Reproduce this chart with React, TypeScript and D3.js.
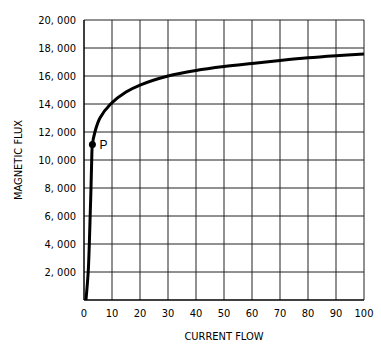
import React, { useEffect, useRef } from 'react';
import * as d3 from 'd3';

// curve: current flow vs magnetic flux
const current = [0.7, 1.5, 1.9, 2.2, 2.5, 2.75, 3, 3.9, 5.7, 9.5, 15, 20, 30, 40, 50, 60, 70, 80, 90, 100];
const flux = [0, 2000, 4000, 6000, 8000, 10000, 11100, 12000, 13000, 14000, 14850, 15350, 16000, 16400, 16680, 16900, 17110, 17300, 17450, 17580];
const xTicks = [0, 10, 20, 30, 40, 50, 60, 70, 80, 90, 100];
const yTicks = [2000, 4000, 6000, 8000, 10000, 12000, 14000, 16000, 18000, 20000];
const pointP = { x: 3, y: 11100, label: 'P' };

const App = () => {
    const ref = useRef<SVGSVGElement>(null);

    useEffect(() => {
        const svg = d3.select(ref.current);
        svg.selectAll('*').remove();

        const margin = { top: 20, right: 17, bottom: 55, left: 84 };
        const width = 381 - margin.left - margin.right;
        const height = 355 - margin.top - margin.bottom;
        const font = '"Liberation Sans Narrow", "DejaVu Sans Condensed", sans-serif';

        const x = d3.scaleLinear().domain([0, 100]).range([0, width]);
        const y = d3.scaleLinear().domain([0, 20000]).range([height, 0]);

        const g = svg.append('g').attr('transform', `translate(${margin.left},${margin.top})`);

        // grid
        g.selectAll('.vgrid')
            .data(xTicks.slice(1))
            .enter()
            .append('line')
            .attr('x1', d => x(d)).attr('x2', d => x(d))
            .attr('y1', 0).attr('y2', height)
            .attr('stroke', '#222').attr('stroke-width', 1);
        g.selectAll('.hgrid')
            .data(yTicks)
            .enter()
            .append('line')
            .attr('x1', 0).attr('x2', width)
            .attr('y1', d => y(d)).attr('y2', d => y(d))
            .attr('stroke', '#222').attr('stroke-width', 1);

        // axes lines
        g.append('line').attr('x1', 0).attr('x2', 0).attr('y1', 0).attr('y2', height)
            .attr('stroke', '#000').attr('stroke-width', 1.5);
        g.append('line').attr('x1', 0).attr('x2', width).attr('y1', height).attr('y2', height)
            .attr('stroke', '#000').attr('stroke-width', 1.5);

        // tick labels
        g.selectAll('.xl')
            .data(xTicks)
            .enter()
            .append('text')
            .attr('x', d => x(d))
            .attr('y', height + 17)
            .attr('text-anchor', 'middle')
            .attr('font-family', font)
            .attr('font-size', 11)
            .text(d => d);
        g.selectAll('.yl')
            .data(yTicks)
            .enter()
            .append('text')
            .attr('x', -8)
            .attr('y', d => y(d) + 4)
            .attr('text-anchor', 'end')
            .attr('font-family', font)
            .attr('font-size', 11)
            .text(d => d3.format(',')(d).replace(',', ', '));

        // titles
        svg.append('text')
            .attr('x', margin.left + width / 2)
            .attr('y', 340)
            .attr('text-anchor', 'middle')
            .attr('font-family', font)
            .attr('font-size', 11)
            .text('CURRENT FLOW');
        svg.append('text')
            .attr('transform', `translate(22,${margin.top + height / 2}) rotate(-90)`)
            .attr('text-anchor', 'middle')
            .attr('font-family', font)
            .attr('font-size', 11)
            .text('MAGNETIC FLUX');

        // curve
        const pts = current.map((c, i) => [c, flux[i]] as [number, number]);
        const line = d3.line<[number, number]>()
            .x(d => x(d[0]))
            .y(d => y(d[1]))
            .curve(d3.curveCatmullRom.alpha(0.5));
        g.append('path')
            .datum(pts)
            .attr('fill', 'none')
            .attr('stroke', '#000')
            .attr('stroke-width', 3)
            .attr('d', line);

        // point P
        g.append('circle')
            .attr('cx', x(pointP.x))
            .attr('cy', y(pointP.y))
            .attr('r', 3.5)
            .attr('fill', '#000');
        g.append('text')
            .attr('x', x(pointP.x) + 7)
            .attr('y', y(pointP.y) + 4)
            .attr('font-family', 'Arial, "Liberation Sans", sans-serif')
            .attr('font-size', 12)
            .text(pointP.label);
    }, []);

    return (
        <svg ref={ref} width={381} height={355} style={{ position: 'absolute', left: 0, top: 0, background: '#fff' }} />
    );
};

export default App;
